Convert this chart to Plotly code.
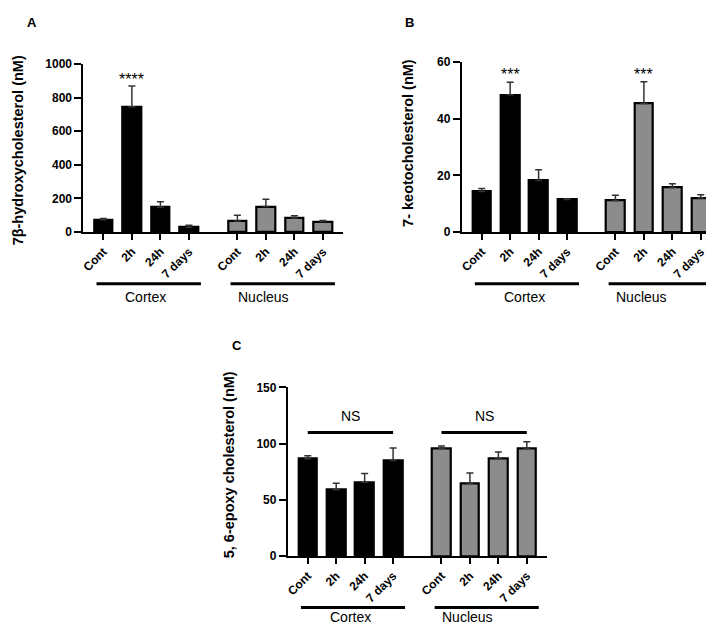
import plotly.graph_objects as go

# ---- data ----
times = ["Cont", "2h", "24h", "7 days"]
regions = ["Cortex", "Nucleus"]

a_cortex = [73, 745, 147, 28]
a_cortex_err = [8, 123, 33, 13]
a_nucleus = [66, 152, 83, 62]
a_nucleus_err = [34, 43, 14, 6]

b_cortex = [14.3, 48.5, 18.2, 11.5]
b_cortex_err = [1.1, 4.4, 3.8, 0.3]
b_nucleus = [11.1, 45.4, 15.7, 12.0]
b_nucleus_err = [1.9, 7.7, 1.4, 1.2]

c_cortex = [86.7, 59.0, 65.6, 85.0]
c_cortex_err = [2.6, 5.7, 7.8, 11.2]
c_nucleus = [96.0, 64.7, 86.7, 96.0]
c_nucleus_err = [2.0, 9.3, 5.8, 5.7]

a_ticks = [0, 200, 400, 600, 800, 1000]
b_ticks = [0, 20, 40, 60]
c_ticks = [0, 50, 100, 150]

# ---- layout helpers ----
W, H = 714, 625
def fx(px):
    return px / W
def fy(py):
    return 1 - py / H

OFF = 4.7
pos_c = [i for i in range(4)]
pos_n = [i + OFF for i in range(4)]
XR = [-0.7, 3 + OFF + 0.7]
BW = 0.66
FONT = "Liberation Sans, Arial, sans-serif"
GRAY = "#8c8c8c"

fig = go.Figure()

def add_panel(n, cvals, cerr, nvals, nerr):
    xa = "x" if n == 1 else f"x{n}"
    ya = "y" if n == 1 else f"y{n}"
    for pos, vals, err, col in [(pos_c, cvals, cerr, "black"), (pos_n, nvals, nerr, GRAY)]:
        fig.add_trace(go.Bar(
            x=pos, y=vals, width=BW, xaxis=xa, yaxis=ya,
            marker=dict(color=col, line=dict(color="black", width=2.2)),
            error_y=dict(type="data", array=err, arrayminus=[0] * len(err), symmetric=False,
                         color="#333333", thickness=1.5, width=3.5),
            showlegend=False, hoverinfo="skip",
        ))

add_panel(1, a_cortex, a_cortex_err, a_nucleus, a_nucleus_err)
add_panel(2, b_cortex, b_cortex_err, b_nucleus, b_nucleus_err)
add_panel(3, c_cortex, c_cortex_err, c_nucleus, c_nucleus_err)

tickfont = dict(family=FONT, size=12, color="black", weight="bold")

def xaxis(dom, anchor):
    return dict(domain=dom, anchor=anchor, range=XR, showline=True, linecolor="black",
                linewidth=2, ticks="outside", ticklen=6, tickwidth=2, tickcolor="black",
                tickvals=pos_c + pos_n, ticktext=times + times, tickangle=-45,
                tickfont=tickfont, showgrid=False, zeroline=False, fixedrange=True)

def yaxis(dom, anchor, rng, tv):
    return dict(domain=dom, anchor=anchor, range=rng, showline=True, linecolor="black",
                linewidth=2, ticks="outside", ticklen=7, tickwidth=2, tickcolor="black",
                tickvals=tv, tickfont=tickfont, showgrid=False, zeroline=False, fixedrange=True)

fig.update_layout(
    width=W, height=H, margin=dict(l=0, r=0, t=0, b=0),
    paper_bgcolor="white", plot_bgcolor="white", bargap=0,
    font=dict(family=FONT, color="black"),
    xaxis=xaxis([fx(72.7), fx(333.3)], "y"),
    yaxis=yaxis([fy(222), fy(50)], "x", [0, 1000], a_ticks),
    xaxis2=xaxis([fx(452.7), fx(712.7)], "y2"),
    yaxis2=yaxis([fy(222), fy(48.3)], "x2", [0, 60], b_ticks),
    xaxis3=xaxis([fx(278), fx(538)], "y3"),
    yaxis3=yaxis([fy(553.5), fy(381)], "x3", [0, 150], c_ticks),
)

shapes = []
ann = []

def group_marks(n, line_py, text_py):
    xr = "x" if n == 1 else f"x{n}"
    for start, label, tc in [(0, regions[0], 1.49), (OFF, regions[1], OFF + 0.93)]:
        shapes.append(dict(type="line", xref=xr, yref="paper", x0=start - 0.24, x1=start + 3.42,
                           y0=fy(line_py), y1=fy(line_py), line=dict(color="black", width=3)))
        ann.append(dict(text=label, xref=xr, yref="paper", x=tc, y=fy(text_py), showarrow=False,
                        xanchor="center", yanchor="middle",
                        font=dict(family=FONT, size=14, color="black")))

group_marks(1, 275, 288)
group_marks(2, 275, 288)
group_marks(3, 606, 615.5)

# NS lines panel C
for start in [0, OFF]:
    shapes.append(dict(type="line", xref="x3", yref="y3", x0=start, x1=start + 3,
                       y0=110, y1=110, line=dict(color="black", width=3)))
    ann.append(dict(text="NS", xref="x3", yref="y3", x=start + 1.5, y=125, showarrow=False,
                    xanchor="center", yanchor="middle", font=dict(family=FONT, size=14, color="black")))

# significance stars
ann.append(dict(text="****", xref="x", yref="y", x=1, y=907, showarrow=False,
                xanchor="center", yanchor="middle", font=dict(family=FONT, size=16, color="black")))
for xx in [1, 1 + OFF]:
    ann.append(dict(text="***", xref="x2", yref="y2", x=xx, y=55.6, showarrow=False,
                    xanchor="center", yanchor="middle", font=dict(family=FONT, size=16, color="black")))

# y titles
titles = [("7β-hydroxycholesterol (nM)", 7, 138.5),
          ("7- keotocholesterol (nM)", 398, 130.5),
          ("5, 6-epoxy cholesterol (nM)", 218.5, 460)]
for t, px, py in titles:
    ann.append(dict(text=t, xref="paper", yref="paper", x=fx(px), y=fy(py), textangle=-90,
                    showarrow=False, xanchor="center", yanchor="middle",
                    font=dict(family=FONT, size=14.5, color="black", weight="bold")))

# panel letters
for t, px, py in [("A", 21, 7.5), ("B", 400, 7.5), ("C", 226.5, 338)]:
    ann.append(dict(text=t, xref="paper", yref="paper", x=fx(px), y=fy(py), showarrow=False,
                    xanchor="center", yanchor="middle",
                    font=dict(family=FONT, size=13, color="black", weight="bold")))

fig.update_layout(shapes=shapes, annotations=ann)
fig.write_html("out.html")
